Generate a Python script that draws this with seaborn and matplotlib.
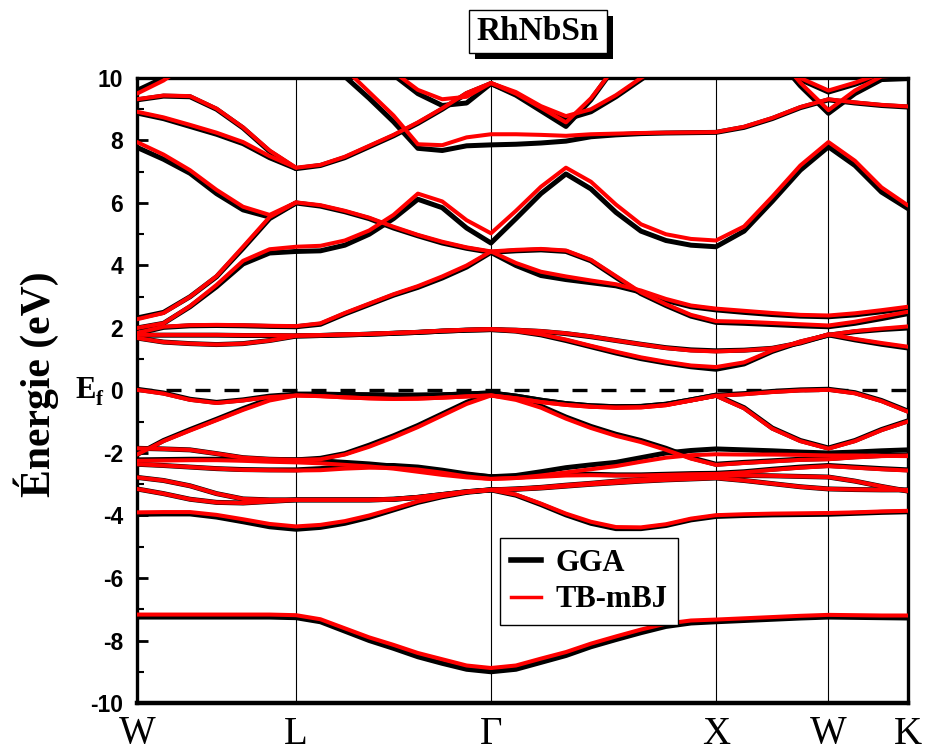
import numpy as np
import pandas as pd
import matplotlib
matplotlib.use("Agg")
import matplotlib.pyplot as plt
from matplotlib.lines import Line2D
from matplotlib.patches import Rectangle
from matplotlib.ticker import MultipleLocator
import seaborn as sns

# ---------------------------------------------------------------------------
# High-symmetry path of the fcc Brillouin zone (units of 2*pi/a)
# ---------------------------------------------------------------------------
sym_labels = ["W", "L", "Γ", "X", "W", "K"]
sym_k = [0.0, 0.7071, 1.5731, 2.5731, 3.0731, 3.4267]
seg_steps = [6, 8, 9, 4, 3]          # sampled steps along W-L, L-Γ, Γ-X, X-W, W-K

k_parts = [np.array([sym_k[0]])]
for i, n in enumerate(seg_steps):
    k_parts.append(np.linspace(sym_k[i], sym_k[i + 1], n + 1)[1:])
kpath = np.concatenate(k_parts)
nan = np.nan

# ---------------------------------------------------------------------------
# Band energies (eV, E_F = 0) on the k grid; rows: W-L | L-Γ | Γ-X | X-W | W-K
# ---------------------------------------------------------------------------
# --- GGA ---
s_gga = [-7.25, -7.25, -7.25, -7.25, -7.25, -7.25, -7.27,
         -7.40, -7.70, -8.00, -8.25, -8.52, -8.73, -8.92, -9.00,
         -8.92, -8.70, -8.48, -8.20, -7.97, -7.75, -7.55, -7.44, -7.40,
         -7.36, -7.32, -7.28, -7.25,
         -7.26, -7.27, -7.28]
vb8_gga = [-3.96, -3.95, -3.95, -4.05, -4.20, -4.36, -4.44,
           -4.38, -4.25, -4.06, -3.82, -3.58, -3.40, -3.26, -3.18,
           -3.35, -3.65, -3.98, -4.25, -4.42, -4.42, -4.32, -4.14, -4.03,
           -4.00, -3.98, -3.97, -3.96,
           -3.93, -3.90, -3.88]
vb7_gga = [-3.15, -3.30, -3.48, -3.58, -3.60, -3.55, -3.50,
           -3.50, -3.50, -3.50, -3.48, -3.42, -3.33, -3.24, -3.18,
           -3.16, -3.12, -3.06, -3.00, -2.95, -2.90, -2.86, -2.83, -2.80,
           -2.88, -2.98, -3.08, -3.15,
           -3.17, -3.18, -3.18]
vb6_gga = [-2.78, -2.88, -3.05, -3.30, -3.47, -3.50, -3.50,
           -3.50, -3.50, -3.50, -3.48, -3.42, -3.33, -3.24, -3.18,
           -3.15, -3.10, -3.03, -2.97, -2.90, -2.85, -2.80, -2.76, -2.72,
           -2.72, -2.73, -2.75, -2.77,
           -2.90, -3.07, -3.22]
vb5_gga = [-2.36, -2.40, -2.45, -2.50, -2.53, -2.54, -2.54,
           -2.50, -2.44, -2.40, -2.40, -2.45, -2.55, -2.67, -2.76,
           -2.75, -2.72, -2.68, -2.68, -2.70, -2.70, -2.68, -2.66, -2.65,
           -2.60, -2.52, -2.45, -2.40,
           -2.45, -2.50, -2.54]
vb4_gga = [-2.22, -2.21, -2.20, -2.20, -2.21, -2.22, -2.22,
           -2.25, -2.30, -2.35, -2.42, -2.52, -2.62, -2.70, -2.76,
           -2.72, -2.60, -2.47, -2.38, -2.30, -2.15, -2.00, -1.92, -1.87,
           -1.90, -1.93, -1.97, -2.00,
           -1.97, -1.93, -1.90]
vb3_gga = [-1.85, -1.87, -1.90, -2.02, -2.15, -2.20, -2.22,
           -2.17, -2.02, -1.75, -1.45, -1.12, -0.75, -0.38, -0.08,
           -0.18, -0.31, -0.42, -0.49, -0.52, -0.51, -0.44, -0.30, -0.15,
           -0.55, -1.20, -1.60, -1.84,
           -1.60, -1.25, -0.97]
vb2_gga = [-2.05, -1.60, -1.25, -0.92, -0.58, -0.27, -0.12,
           -0.12, -0.13, -0.14, -0.15, -0.15, -0.14, -0.11, -0.08,
           -0.25, -0.50, -0.85, -1.15, -1.40, -1.60, -1.85, -2.15, -2.36,
           -2.30, -2.25, -2.20, -2.18,
           -2.12, -2.08, -2.06]
vb1_gga = [0.04, -0.08, -0.28, -0.38, -0.30, -0.18, -0.12,
           -0.12, -0.13, -0.14, -0.15, -0.15, -0.14, -0.11, -0.08,
           -0.18, -0.31, -0.42, -0.49, -0.52, -0.51, -0.44, -0.30, -0.15,
           -0.10, -0.03, 0.02, 0.04,
           -0.07, -0.32, -0.66]
cA_gga = [1.77, 1.77, 1.77, 1.77, 1.76, 1.76, 1.75,
          1.76, 1.78, 1.80, 1.83, 1.86, 1.90, 1.93, 1.95,
          1.93, 1.89, 1.82, 1.72, 1.60, 1.48, 1.37, 1.30, 1.27,
          1.29, 1.35, 1.52, 1.78,
          1.62, 1.48, 1.36]
cB_gga = [1.68, 1.55, 1.50, 1.47, 1.50, 1.60, 1.74,
          1.76, 1.78, 1.80, 1.83, 1.86, 1.90, 1.93, 1.95,
          1.90, 1.78, 1.60, 1.40, 1.20, 1.02, 0.88, 0.76, 0.68,
          0.85, 1.25, 1.55, 1.77,
          1.88, 1.95, 2.00]
cC_gga = [1.82, 2.02, 2.07, 2.08, 2.07, 2.05, 2.04,
          2.12, 2.45, 2.75, 3.05, 3.30, 3.60, 3.95, 4.42,
          4.47, 4.50, 4.45, 4.15, 3.62, 3.10, 2.72, 2.38, 2.18,
          2.15, 2.11, 2.07, 2.04,
          2.15, 2.30, 2.46]
cD_gga = [2.32, 2.50, 3.00, 3.64, 4.55, 5.50, 6.00,
          5.90, 5.72, 5.50, 5.20, 4.95, 4.72, 4.55, 4.42,
          4.00, 3.68, 3.55, 3.45, 3.35, 3.15, 2.88, 2.68, 2.58,
          2.50, 2.43, 2.38, 2.36,
          2.42, 2.52, 2.63]
cE_gga = [2.00, 2.15, 2.68, 3.32, 4.05, 4.40, 4.45,
          4.47, 4.65, 5.00, 5.50, 6.12, 5.85, 5.20, 4.72,
          5.50, 6.30, 6.93, 6.45, 5.70, 5.10, 4.80, 4.65, 4.60,
          5.10, 6.05, 7.05, 7.80,
          7.20, 6.35, 5.82]
cF_gga = [7.78, 7.40, 6.95, 6.30, 5.78, 5.55, 6.00,
          nan, nan, nan, nan, nan, nan, nan, nan,
          nan, nan, nan, nan, nan, nan, nan, nan, nan,
          nan, nan, nan, nan,
          nan, nan, nan]
cG_gga = [8.88, 8.70, 8.45, 8.20, 7.90, 7.45, 7.10,
          7.20, 7.45, 7.80, 8.15, 8.55, 9.00, 9.50, 9.82,
          9.50, 9.05, 8.68, 8.92, 9.40, 9.95, 10.50, nan, nan,
          nan, nan, nan, nan,
          nan, nan, nan]
cH_gga = [9.30, 9.42, 9.40, 9.00, 8.40, 7.65, 7.10,
          nan, nan, nan, nan, nan, nan, nan, nan,
          nan, nan, nan, nan, nan, nan, nan, nan, nan,
          nan, nan, nan, nan,
          nan, nan, nan]
cI_gga = [9.60, 10.00, 10.60, nan, nan, nan, nan,
          nan, nan, nan, nan, nan, nan, nan, nan,
          nan, nan, nan, nan, nan, nan, nan, nan, nan,
          nan, nan, nan, nan,
          nan, nan, nan]
cJ_gga = [nan, nan, nan, nan, nan, nan, nan,
          10.80, 10.05, 9.35, 8.60, 7.75, 7.68, 7.83, 7.86,
          7.88, 7.92, 7.98, 8.12, 8.18, 8.22, 8.24, 8.25, 8.26,
          8.42, 8.70, 9.05, 9.30,
          9.20, 9.12, 9.07]
cK_gga = [nan, nan, nan, nan, nan, nan, nan,
          nan, nan, 10.60, 10.10, 9.50, 9.12, 9.20, 9.82,
          9.45, 8.95, 8.45, 9.30, 10.40, nan, nan, nan, nan,
          nan, nan, nan, nan,
          nan, nan, nan]
cL_gga = [nan, nan, nan, nan, nan, nan, nan,
          nan, nan, nan, nan, nan, nan, nan, nan,
          nan, nan, nan, nan, nan, nan, nan, nan, nan,
          nan, 10.80, 9.75, 8.87,
          9.50, 9.95, 9.98]
cM_gga = [nan, nan, nan, nan, nan, nan, nan,
          nan, nan, nan, nan, nan, nan, nan, nan,
          nan, nan, nan, nan, nan, nan, nan, nan, nan,
          nan, 10.60, 9.95, 9.55,
          9.80, 10.10, 10.40]

# --- TB-mBJ ---
s_mbj = [-7.17, -7.17, -7.17, -7.17, -7.17, -7.17, -7.19,
         -7.32, -7.61, -7.90, -8.14, -8.40, -8.60, -8.80, -8.88,
         -8.80, -8.58, -8.37, -8.10, -7.87, -7.65, -7.46, -7.36, -7.33,
         -7.29, -7.25, -7.21, -7.18,
         -7.19, -7.20, -7.20]
vb8_mbj = [-3.90, -3.89, -3.89, -3.98, -4.12, -4.27, -4.35,
           -4.30, -4.18, -4.00, -3.78, -3.55, -3.38, -3.25, -3.18,
           -3.33, -3.62, -3.94, -4.20, -4.37, -4.38, -4.28, -4.10, -3.99,
           -3.96, -3.94, -3.93, -3.92,
           -3.90, -3.87, -3.85]
vb7_mbj = vb7_gga
vb6_mbj = vb6_gga
vb5_mbj = [-2.36, -2.40, -2.45, -2.50, -2.54, -2.55, -2.56,
           -2.55, -2.50, -2.47, -2.48, -2.53, -2.63, -2.75, -2.83,
           -2.80, -2.76, -2.72, -2.71, -2.72, -2.72, -2.70, -2.68, -2.67,
           -2.62, -2.54, -2.47, -2.42,
           -2.47, -2.52, -2.56]
vb4_mbj = [-2.25, -2.24, -2.23, -2.23, -2.25, -2.28, -2.30,
           -2.33, -2.38, -2.43, -2.50, -2.60, -2.70, -2.78, -2.83,
           -2.80, -2.72, -2.62, -2.52, -2.42, -2.28, -2.15, -2.07, -2.04,
           -2.05, -2.05, -2.06, -2.08,
           -2.08, -2.09, -2.10]
vb3_mbj = [-1.85, -1.87, -1.90, -2.02, -2.15, -2.20, -2.22,
           -2.20, -2.05, -1.80, -1.50, -1.17, -0.80, -0.43, -0.16,
           -0.25, -0.37, -0.46, -0.52, -0.55, -0.54, -0.47, -0.32, -0.17,
           -0.57, -1.22, -1.62, -1.86,
           -1.62, -1.27, -0.99]
vb2_mbj = [-2.05, -1.62, -1.28, -0.95, -0.62, -0.32, -0.16,
           -0.18, -0.22, -0.25, -0.27, -0.26, -0.23, -0.19, -0.16,
           -0.30, -0.55, -0.90, -1.20, -1.45, -1.65, -1.90, -2.18, -2.38,
           -2.32, -2.27, -2.22, -2.20,
           -2.14, -2.10, -2.08]
vb1_mbj = [0.02, -0.10, -0.30, -0.40, -0.32, -0.21, -0.16,
           -0.18, -0.22, -0.25, -0.27, -0.26, -0.23, -0.19, -0.16,
           -0.25, -0.37, -0.46, -0.52, -0.55, -0.54, -0.47, -0.32, -0.17,
           -0.12, -0.05, 0.00, 0.02,
           -0.09, -0.34, -0.68]
cA_mbj = [1.78, 1.78, 1.78, 1.78, 1.77, 1.77, 1.76,
          1.77, 1.79, 1.81, 1.84, 1.87, 1.91, 1.94, 1.96,
          1.94, 1.90, 1.83, 1.73, 1.60, 1.48, 1.36, 1.28, 1.25,
          1.28, 1.35, 1.53, 1.80,
          1.65, 1.52, 1.40]
cB_mbj = [1.68, 1.55, 1.50, 1.47, 1.50, 1.60, 1.75,
          1.77, 1.79, 1.81, 1.84, 1.87, 1.91, 1.94, 1.96,
          1.90, 1.80, 1.63, 1.43, 1.24, 1.06, 0.92, 0.80, 0.75,
          0.90, 1.28, 1.57, 1.78,
          1.90, 1.98, 2.05]
cC_mbj = [1.84, 2.04, 2.09, 2.10, 2.09, 2.07, 2.06,
          2.15, 2.48, 2.78, 3.08, 3.34, 3.65, 4.00, 4.45,
          4.50, 4.53, 4.48, 4.18, 3.66, 3.14, 2.76, 2.42, 2.22,
          2.20, 2.16, 2.12, 2.08,
          2.20, 2.36, 2.52]
cD_mbj = [2.28, 2.48, 3.00, 3.66, 4.60, 5.55, 6.02,
          5.93, 5.75, 5.53, 5.24, 4.98, 4.76, 4.58, 4.45,
          4.08, 3.80, 3.65, 3.52, 3.40, 3.20, 2.93, 2.72, 2.62,
          2.55, 2.48, 2.42, 2.40,
          2.47, 2.57, 2.68]
cE_mbj = [2.00, 2.15, 2.70, 3.38, 4.15, 4.52, 4.60,
          4.63, 4.80, 5.12, 5.62, 6.30, 6.05, 5.45, 5.03,
          5.75, 6.52, 7.13, 6.68, 5.95, 5.32, 5.00, 4.85, 4.80,
          5.25, 6.20, 7.20, 7.95,
          7.35, 6.50, 5.92]
cF_mbj = [7.95, 7.55, 7.05, 6.42, 5.88, 5.62, 6.02,
          nan, nan, nan, nan, nan, nan, nan, nan,
          nan, nan, nan, nan, nan, nan, nan, nan, nan,
          nan, nan, nan, nan,
          nan, nan, nan]
cG_mbj = [8.92, 8.74, 8.50, 8.25, 7.95, 7.50, 7.13,
          7.22, 7.48, 7.83, 8.18, 8.58, 9.03, 9.52, 9.84,
          9.55, 9.10, 8.78, 9.00, 9.45, 10.00, 10.50, nan, nan,
          nan, nan, nan, nan,
          nan, nan, nan]
cH_mbj = [9.32, 9.44, 9.42, 9.02, 8.42, 7.68, 7.13,
          nan, nan, nan, nan, nan, nan, nan, nan,
          nan, nan, nan, nan, nan, nan, nan, nan, nan,
          nan, nan, nan, nan,
          nan, nan, nan]
cI_mbj = [9.50, 9.92, 10.50, nan, nan, nan, nan,
          nan, nan, nan, nan, nan, nan, nan, nan,
          nan, nan, nan, nan, nan, nan, nan, nan, nan,
          nan, nan, nan, nan,
          nan, nan, nan]
cJ_mbj = [nan, nan, nan, nan, nan, nan, nan,
          11.00, 10.30, 9.55, 8.80, 7.88, 7.85, 8.10, 8.20,
          8.20, 8.18, 8.15, 8.20, 8.22, 8.24, 8.25, 8.26, 8.27,
          8.44, 8.72, 9.07, 9.32,
          9.22, 9.14, 9.09]
cK_mbj = [nan, nan, nan, nan, nan, nan, nan,
          nan, nan, 10.70, 10.20, 9.62, 9.32, 9.40, 9.84,
          9.50, 9.05, 8.58, 9.35, 10.40, nan, nan, nan, nan,
          nan, nan, nan, nan,
          nan, nan, nan]
cL_mbj = [nan, nan, nan, nan, nan, nan, nan,
          nan, nan, nan, nan, nan, nan, nan, nan,
          nan, nan, nan, nan, nan, nan, nan, nan, nan,
          nan, 10.90, 9.85, 8.97,
          9.60, 10.05, 10.10]
cM_mbj = [nan, nan, nan, nan, nan, nan, nan,
          nan, nan, nan, nan, nan, nan, nan, nan,
          nan, nan, nan, nan, nan, nan, nan, nan, nan,
          nan, 10.65, 10.00, 9.60,
          9.85, 10.15, 10.45]

gga_bands = [s_gga, vb8_gga, vb7_gga, vb6_gga, vb5_gga, vb4_gga, vb3_gga,
             vb2_gga, vb1_gga, cA_gga, cB_gga, cC_gga, cD_gga, cE_gga,
             cF_gga, cG_gga, cH_gga, cI_gga, cJ_gga, cK_gga, cL_gga, cM_gga]
mbj_bands = [s_mbj, vb8_mbj, vb7_mbj, vb6_mbj, vb5_mbj, vb4_mbj, vb3_mbj,
             vb2_mbj, vb1_mbj, cA_mbj, cB_mbj, cC_mbj, cD_mbj, cE_mbj,
             cF_mbj, cG_mbj, cH_mbj, cI_mbj, cJ_mbj, cK_mbj, cL_mbj, cM_mbj]


def long_form(bands, method):
    """One row per (k, E) point; each unbroken run of a band gets its own unit."""
    rows = []
    for b, vals in enumerate(bands):
        run, gap = 0, True
        for k, e in zip(kpath, vals):
            if np.isnan(e):
                gap = True
                continue
            if gap:
                run += 1
                gap = False
            rows.append((k, e, f"{method}-{b}-{run}"))
    return pd.DataFrame(rows, columns=["k", "E", "unit"])


df_gga = long_form(gga_bands, "GGA")
df_mbj = long_form(mbj_bands, "mBJ")

# ---------------------------------------------------------------------------
# Figure
# ---------------------------------------------------------------------------
plt.rcParams["font.family"] = ["Liberation Sans", "DejaVu Sans"]
plt.rcParams["axes.unicode_minus"] = False
serif = ["Liberation Serif", "DejaVu Serif"]

W_PX, H_PX = 925, 753
fig = plt.figure(figsize=(W_PX / 100, H_PX / 100), dpi=100)
ax = fig.add_axes([137 / W_PX, 1 - 703 / H_PX, (908 - 137) / W_PX, (703 - 78) / H_PX])

for kk in sym_k[1:-1]:
    ax.axvline(kk, color="black", lw=0.8, zorder=1)
ax.axhline(0, color="black", lw=2.4, ls=(0, (4.5, 4.2)), zorder=1.5)

line_kw = dict(x="k", y="E", units="unit", estimator=None, sort=False,
               legend=False, ax=ax, solid_joinstyle="round", solid_capstyle="round")
sns.lineplot(data=df_gga, color="black", lw=3.6, zorder=3, **line_kw)
sns.lineplot(data=df_mbj, color="#ff0000", lw=2.9, zorder=4, **line_kw)

ax.set_xlim(sym_k[0], sym_k[-1])
ax.set_ylim(-10, 10)
ax.set_xlabel("")
ax.set_ylabel("Énergie (eV)", fontsize=30, fontweight="bold", family=serif)
ax.yaxis.set_label_coords(-0.101, 0.51)

ax.set_xticks(sym_k)
ax.set_xticklabels(sym_labels, fontsize=28, family=serif)
ax.tick_params(axis="x", length=0, pad=9)

ax.set_yticks(np.arange(-10, 11, 2))
ax.yaxis.set_minor_locator(MultipleLocator(1))
ax.tick_params(axis="y", which="major", direction="in", length=8, width=2,
               labelsize=16.5, pad=10)
ax.tick_params(axis="y", which="minor", direction="in", length=5, width=1.5)
for lbl in ax.get_yticklabels():
    lbl.set_fontweight("bold")

for side, lw in [("left", 2.4), ("right", 2.4), ("top", 2.4), ("bottom", 3.2)]:
    ax.spines[side].set_linewidth(lw)
    ax.spines[side].set_color("black")

# Fermi-level marker next to the zero tick
fig.text(96 / W_PX, 1 - 398 / H_PX, "E", fontsize=22, fontweight="bold",
         family=serif, ha="right", va="baseline")
fig.text(96 / W_PX, 1 - 405 / H_PX, "f", fontsize=15, fontweight="bold",
         family=serif, ha="left", va="baseline")

# Compound name in a shadowed box
bx0, by0, bx1, by1 = 469, 10, 607, 53
sh = 6
fig.patches.append(Rectangle(((bx0 + sh) / W_PX, 1 - (by1 + sh) / H_PX),
                             (bx1 - bx0) / W_PX, (by1 - by0) / H_PX,
                             transform=fig.transFigure, facecolor="black",
                             edgecolor="none", zorder=5))
fig.patches.append(Rectangle((bx0 / W_PX, 1 - by1 / H_PX),
                             (bx1 - bx0) / W_PX, (by1 - by0) / H_PX,
                             transform=fig.transFigure, facecolor="white",
                             edgecolor="black", lw=1.0, zorder=6))
fig.text((bx0 + bx1) / 2 / W_PX, 1 - (by0 + by1) / 2 / H_PX, "RhNbSn",
         fontsize=24, fontweight="bold", family=serif, ha="center",
         va="center", zorder=7)

handles = [Line2D([], [], color="black", lw=4.0),
           Line2D([], [], color="#ff0000", lw=2.5)]
leg = ax.legend(handles, ["GGA", "TB-mBJ"], loc="upper left",
                bbox_to_anchor=((500 - 137) / 771, (703 - 538) / 625),
                borderaxespad=0, frameon=True, fancybox=False, shadow=False,
                handlelength=1.0, handletextpad=0.45, borderpad=0.35,
                labelspacing=0.25, prop={"family": serif, "weight": "bold",
                                         "size": 22})
leg.get_frame().set_edgecolor("black")
leg.get_frame().set_linewidth(1.0)
leg.get_frame().set_alpha(1)
leg.set_zorder(10)

fig.savefig("out.png", dpi=100)
